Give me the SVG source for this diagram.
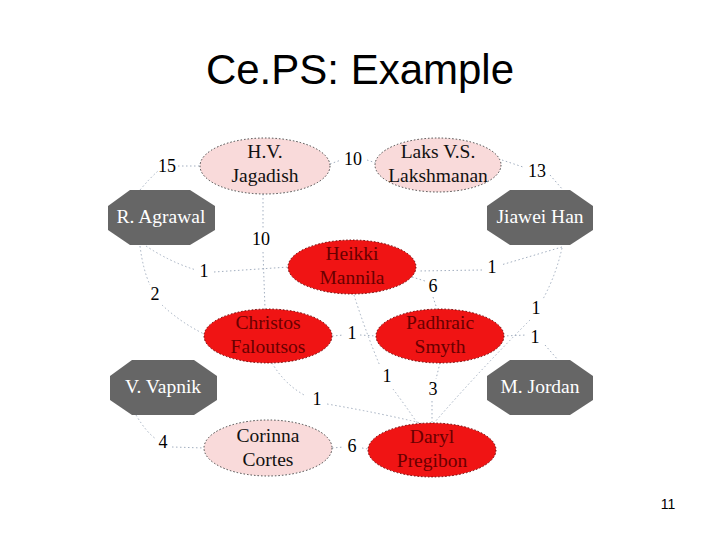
<svg xmlns="http://www.w3.org/2000/svg" width="720" height="540" viewBox="0 0 720 540">
<style>
.title{font-family:"Liberation Sans",Arial,sans-serif;font-size:42px;fill:#000;text-anchor:middle}
.pg{font-family:"Liberation Sans",Arial,sans-serif;font-size:14px;fill:#000;text-anchor:middle}
.nt{font-family:"Liberation Serif","Times New Roman",serif;font-size:19.5px;text-anchor:middle}
.lbl{font-family:"Liberation Serif","Times New Roman",serif;font-size:18px;fill:#000;text-anchor:middle}
.pink{fill:#f9dada;stroke:#444;stroke-width:1;stroke-dasharray:1.5 2}
.red{fill:#f01414;stroke:#600;stroke-width:1;stroke-dasharray:1.5 2}
.red-t{fill:#6a0000}
.pink-t{fill:#111}
.oct{fill:#666666}
.oct-t{fill:#fff}
.edge{fill:none;stroke:#a3afc0;stroke-width:1;stroke-dasharray:1.5 2.5}
</style>
<rect width="720" height="540" fill="#fff"/>
<text class="title" x="360" y="84">Ce.PS: Example</text>
<text class="pg" x="668" y="509">11</text>

<g id="edges">
<path class="edge" d="M140,190 Q150,178 158,171 M178,166 L200,166"/>
<path class="edge" d="M330,164 L341,160 M367,160 L376,163"/>
<path class="edge" d="M502,160 L523,167 M550,175 L563,190"/>
<path class="edge" d="M263,194 L263,229 M263,252 L265,309"/>
<path class="edge" d="M146,246 Q170,262 196,270 M214,272 L289,267"/>
<path class="edge" d="M562,247 L501,265 M482,270 L418,271"/>
<path class="edge" d="M140,246 Q143,270 150,285 M162,305 Q180,322 204,334"/>
<path class="edge" d="M412,277 L425,281 M433,297 L437,309"/>
<path class="edge" d="M562,248 Q556,275 543,299 M530,320 Q480,370 434,423"/>
<path class="edge" d="M503,336 L527,335 M545,345 L558,360"/>
<path class="edge" d="M332,336 L344,335 M360,335 L376,336"/>
<path class="edge" d="M354,295 Q365,330 380,366 M393,389 Q405,405 418,424"/>
<path class="edge" d="M440,363 L436,379 M432,401 L432,423"/>
<path class="edge" d="M272,363 Q285,385 306,396 M327,404 Q380,413 425,424"/>
<path class="edge" d="M136,415 Q146,432 156,439 M172,447 L204,448"/>
<path class="edge" d="M332,448 L344,447 M362,448 L368,449"/>
</g>
<g id="edge-labels">
<text class="lbl" x="167" y="172">15</text>
<text class="lbl" x="353" y="165">10</text>
<text class="lbl" x="537" y="177">13</text>
<text class="lbl" x="261" y="245">10</text>
<text class="lbl" x="204" y="277">1</text>
<text class="lbl" x="492" y="273">1</text>
<text class="lbl" x="155" y="300">2</text>
<text class="lbl" x="433" y="292">6</text>
<text class="lbl" x="536" y="314">1</text>
<text class="lbl" x="535" y="343">1</text>
<text class="lbl" x="352" y="339">1</text>
<text class="lbl" x="387" y="382">1</text>
<text class="lbl" x="433" y="395">3</text>
<text class="lbl" x="317" y="405">1</text>
<text class="lbl" x="163" y="448">4</text>
<text class="lbl" x="352" y="452">6</text>
</g>

<g id="jagadish">
<ellipse class="pink" cx="265" cy="166" rx="65" ry="28"/>
<text class="nt pink-t" x="265" y="158">H.V.</text>
<text class="nt pink-t" x="265" y="182">Jagadish</text>
</g>
<g id="lakshmanan">
<ellipse class="pink" cx="438" cy="165" rx="63" ry="27"/>
<text class="nt pink-t" x="438" y="158">Laks V.S.</text>
<text class="nt pink-t" x="438" y="182">Lakshmanan</text>
</g>
<g id="agrawal">
<polygon class="oct" points="130,190 190,190 215,206 215,230 190,245 130,245 108,230 108,206"/>
<text class="nt oct-t" x="161" y="223">R. Agrawal</text>
</g>
<g id="han">
<polygon class="oct" points="510,190 570,190 593,206 593,230 570,245 510,245 487,230 487,206"/>
<text class="nt oct-t" x="540" y="223">Jiawei Han</text>
</g>
<g id="mannila">
<ellipse class="red" cx="352" cy="267" rx="64" ry="27"/>
<text class="nt red-t" x="352" y="260">Heikki</text>
<text class="nt red-t" x="352" y="284">Mannila</text>
</g>
<g id="faloutsos">
<ellipse class="red" cx="268" cy="336" rx="64" ry="27"/>
<text class="nt red-t" x="268" y="329">Christos</text>
<text class="nt red-t" x="268" y="353">Faloutsos</text>
</g>
<g id="smyth">
<ellipse class="red" cx="440" cy="336" rx="64" ry="27"/>
<text class="nt red-t" x="440" y="329">Padhraic</text>
<text class="nt red-t" x="440" y="353">Smyth</text>
</g>
<g id="vapnik">
<polygon class="oct" points="132,360 194,360 217,376 217,400 194,415 132,415 110,400 110,376"/>
<text class="nt oct-t" x="163" y="393">V. Vapnik</text>
</g>
<g id="jordan">
<polygon class="oct" points="510,360 570,360 593,376 593,400 570,415 510,415 487,400 487,376"/>
<text class="nt oct-t" x="540" y="393">M. Jordan</text>
</g>
<g id="cortes">
<ellipse class="pink" cx="268" cy="448" rx="64" ry="28"/>
<text class="nt pink-t" x="268" y="442">Corinna</text>
<text class="nt pink-t" x="268" y="466">Cortes</text>
</g>
<g id="pregibon">
<ellipse class="red" cx="432" cy="450" rx="64" ry="27"/>
<text class="nt red-t" x="432" y="443">Daryl</text>
<text class="nt red-t" x="432" y="467">Pregibon</text>
</g>
</svg>
